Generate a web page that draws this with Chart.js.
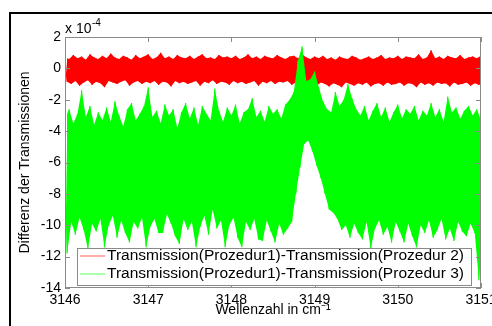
<!DOCTYPE html>
<html><head><meta charset="utf-8">
<script src="https://cdn.jsdelivr.net/npm/chart.js@4.4.1/dist/chart.umd.min.js"></script>
<style>
html,body{margin:0;padding:0;background:#fff;}
#wrap{position:relative;width:492px;height:326px;overflow:hidden;background:#fff;}
#frame{position:absolute;left:9px;top:12px;width:600px;height:400px;border-left:2px solid #000;border-top:2px solid #000;}
canvas{position:absolute;left:0;top:0;}
</style></head><body>
<div id="wrap"><div id="frame"></div><canvas id="c" width="492" height="326"></canvas></div>
<script>
// Wavenumber grid (cm^-1): samples every 0.05 from 3146 to 3151
const X_START = 3146, X_STEP = 0.05;
// All values in units of 1e-4
// Series 1: Transmission(Prozedur1)-Transmission(Prozedur 2)  (red) — upper / lower noise extremes
const redHigh = [0.7,0.6,0.85,0.65,0.75,0.55,0.9,0.7,0.6,0.8,
0.65,0.95,0.7,0.6,0.8,0.7,0.55,0.85,0.65,0.75,
0.9,0.6,0.7,1.0,0.65,0.75,0.6,0.85,0.7,0.65,
0.8,0.6,0.75,0.9,0.65,0.7,0.6,0.85,0.7,0.75,
0.65,0.8,0.6,0.7,0.9,0.65,0.75,0.6,0.8,0.7,
0.65,0.85,0.7,0.6,0.75,0.8,0.65,0.9,0.7,0.6,
0.75,0.65,0.8,0.6,0.7,0.55,0.75,0.65,0.6,0.8,
0.7,0.55,0.65,0.75,0.6,0.7,0.85,0.6,0.7,0.65,
0.8,0.6,0.75,0.7,0.65,0.9,0.6,0.7,1.15,0.65,
0.75,0.6,0.8,0.7,0.65,0.85,0.6,0.7,0.75,0.65,0.8];
const redLow = [-0.85,-1.0,-0.8,-1.1,-0.9,-0.75,-1.05,-0.85,-0.95,-1.2,
-0.8,-0.9,-1.0,-0.85,-0.75,-1.1,-0.9,-0.8,-1.0,-0.85,
-0.95,-0.8,-1.05,-0.85,-0.9,-1.15,-0.8,-0.95,-0.85,-1.0,
-0.9,-0.8,-1.1,-0.85,-0.95,-0.75,-1.0,-0.85,-0.9,-1.05,
-0.8,-0.95,-0.85,-1.0,-0.9,-0.8,-1.1,-0.85,-0.95,-0.8,
-1.0,-0.85,-0.9,-0.8,-1.05,-0.9,-0.85,-1.0,-0.8,-0.95,
-1.1,-0.9,-1.0,-1.15,-0.95,-1.05,-1.2,-0.9,-1.0,-1.1,
-0.95,-1.05,-0.9,-1.15,-1.0,-0.95,-1.1,-0.9,-1.05,-1.0,
-0.9,-1.1,-0.95,-1.0,-1.2,-0.9,-1.05,-0.95,-1.1,-0.9,
-1.0,-0.95,-1.15,-0.9,-1.05,-1.0,-0.9,-1.1,-0.95,-1.05,-0.9];
// Series 2: Transmission(Prozedur1)-Transmission(Prozedur 3)  (green)
const greenHigh = [-3.2,-2.6,-3.5,-2.9,-1.4,-3.1,-2.4,-3.6,-2.8,-3.3,
-2.5,-3.4,-2.1,-3.0,-3.7,-2.6,-2.2,-3.3,-2.9,-2.4,
-1.2,-3.1,-2.7,-3.5,-2.3,-3.0,-2.6,-3.8,-2.8,-2.2,
-3.2,-2.5,-3.6,-2.4,-2.9,-3.3,-1.3,-2.7,-3.4,-2.5,
-3.0,-2.3,-3.5,-2.8,-2.6,-1.9,-3.1,-2.7,-3.4,-2.4,
-2.9,-2.6,-3.2,-2.3,-2.0,-1.5,0.5,1.4,-0.8,-0.7,
-0.2,-1.2,-2.1,-2.6,-2.8,-1.5,-2.4,-2.0,-1.0,-1.9,
-2.6,-3.0,-2.4,-3.3,-2.7,-2.2,-3.1,-2.5,-3.4,-2.8,
-2.3,-3.2,-2.6,-2.9,-2.4,-3.3,-2.7,-3.0,-2.2,-3.1,
-2.6,-3.4,-1.8,-2.8,-2.5,-3.2,-2.7,-2.4,-3.0,-2.6,-3.3];
const greenLow = [-11.8,-9.8,-10.6,-9.5,-10.3,-11.5,-9.9,-10.4,-9.6,-11.4,
-10.0,-9.4,-10.8,-9.7,-10.5,-11.1,-9.8,-10.2,-9.5,-11.4,
-10.1,-9.6,-10.5,-10.5,-9.3,-9.9,-10.7,-11.2,-9.6,-10.3,
-9.8,-11.4,-10.1,-9.4,-10.6,-9.0,-10.2,-9.7,-11.4,-10.0,
-9.5,-10.8,-11.4,-9.8,-10.3,-9.6,-10.9,-11.0,-9.7,-10.4,
-11.1,-9.9,-10.6,-10.2,-9.8,-8.0,-6.3,-4.8,-4.6,-5.3,
-6.2,-7.0,-8.0,-9.0,-9.2,-9.6,-10.3,-10.0,-10.8,-9.9,
-10.5,-10.9,-9.8,-11.5,-10.2,-9.7,-10.6,-10.1,-11.1,-9.8,
-10.4,-11.1,-9.9,-10.7,-11.4,-10.0,-10.5,-9.7,-10.8,-10.3,
-9.6,-10.9,-10.2,-11.0,-9.8,-10.4,-10.7,-9.9,-10.5,-13.5,-10.2];
const seriesLabels = ['Transmission(Prozedur1)-Transmission(Prozedur 2)',
                      'Transmission(Prozedur1)-Transmission(Prozedur 3)'];
const xTicks = [3146,3147,3148,3149,3150,3151];
const yTicks = [2,0,-2,-4,-6,-8,-10,-12,-14];

function zigzag(highs, lows){
  const pts = [];
  for (let i = 0; i < highs.length; i++){
    const x = X_START + i*X_STEP;
    pts.push({x: x, y: highs[i]});
    pts.push({x: x + X_STEP/2, y: lows[i]});
  }
  return pts;
}
const envHigh = highs => highs.map((v, i) => ({x: X_START + i*X_STEP, y: v}));
const envLow = lows => lows.map((v, i) => ({x: X_START + i*X_STEP + X_STEP/2, y: v}));

const FONT = '"Liberation Sans", Arial, sans-serif';

const matlabPlugin = {
  id: 'matlabAxes',
  afterDatasetsDraw(chart){
    const {ctx, chartArea: a, scales: {x, y}} = chart;
    ctx.save();
    ctx.strokeStyle = '#8a8a8a'; ctx.lineWidth = 1;
    ctx.strokeRect(a.left + 0.5, a.top + 0.5, a.right - a.left - 1, a.bottom - a.top - 1);
    ctx.beginPath();
    xTicks.forEach(v => {
      const px = Math.round(x.getPixelForValue(v)) + 0.5;
      ctx.moveTo(px, a.top); ctx.lineTo(px, a.top + 5);
      ctx.moveTo(px, a.bottom); ctx.lineTo(px, a.bottom - 5);
    });
    yTicks.forEach(v => {
      const py = Math.round(y.getPixelForValue(v)) + 0.5;
      ctx.moveTo(a.left, py); ctx.lineTo(a.left + 5, py);
      ctx.moveTo(a.right, py); ctx.lineTo(a.right - 5, py);
    });
    ctx.stroke();
    // exponent label
    ctx.fillStyle = '#000';
    ctx.textBaseline = 'alphabetic';
    ctx.font = '14px ' + FONT;
    ctx.fillText('x 10', a.left, a.top - 4);
    const w = ctx.measureText('x 10').width;
    ctx.font = '10px ' + FONT;
    ctx.fillText('-4', a.left + w + 0.5, a.top - 11);
    // legend
    const lx = a.left + 12, ly = a.bottom - 40, lw = 394, lh = 37;
    ctx.fillStyle = '#fff';
    ctx.fillRect(lx, ly, lw, lh);
    ctx.strokeStyle = '#8a8a8a';
    ctx.strokeRect(lx + 0.5, ly + 0.5, lw, lh);
    const colors = ['#ff9090', '#90ff90'];
    const rows = [ly + 8, ly + 26];
    ctx.font = '14px ' + FONT;
    ctx.textBaseline = 'middle';
    seriesLabels.forEach((t, i) => {
      ctx.strokeStyle = colors[i]; ctx.lineWidth = 1.5;
      ctx.beginPath(); ctx.moveTo(lx + 3, rows[i]); ctx.lineTo(lx + 28, rows[i]); ctx.stroke();
      const tw = ctx.measureText(t).width;
      const sx = 357 / tw;
      ctx.save();
      ctx.translate(lx + 30, rows[i]);
      ctx.scale(sx, 1);
      ctx.fillStyle = '#000';
      ctx.fillText(t, 0, 0);
      ctx.restore();
    });
    ctx.restore();
  }
};

const base = { pointRadius: 0, tension: 0 };
new Chart(document.getElementById('c'), {
  type: 'line',
  data: {
    datasets: [
      // green trace (on top)
      Object.assign({ label: seriesLabels[1], data: zigzag(greenHigh, greenLow), borderColor: '#00ff00',
        borderWidth: 1.2, order: 1, fill: false }, base),
      Object.assign({ label: 'g-hi', data: envHigh(greenHigh), borderWidth: 0, borderColor: 'rgba(0,0,0,0)',
        backgroundColor: '#00ff00', fill: '+1', order: 2 }, base),
      Object.assign({ label: 'g-lo', data: envLow(greenLow), borderWidth: 0, borderColor: 'rgba(0,0,0,0)',
        fill: false, order: 3 }, base),
      // red trace
      Object.assign({ label: seriesLabels[0], data: zigzag(redHigh, redLow), borderColor: '#ff0000',
        borderWidth: 1.2, order: 4, fill: false }, base),
      Object.assign({ label: 'r-hi', data: envHigh(redHigh), borderWidth: 0, borderColor: 'rgba(0,0,0,0)',
        backgroundColor: '#ff0000', fill: '+1', order: 5 }, base),
      Object.assign({ label: 'r-lo', data: envLow(redLow), borderWidth: 0, borderColor: 'rgba(0,0,0,0)',
        fill: false, order: 6 }, base)
    ]
  },
  options: {
    responsive: false,
    animation: false,
    events: [],
    layout: { padding: { left: 0, right: 11, top: 37, bottom: 0 } },
    plugins: { legend: { display: false }, tooltip: { enabled: false },
               filler: { propagate: false } },
    scales: {
      x: {
        type: 'linear', min: 3146, max: 3151,
        afterBuildTicks: s => { s.ticks = xTicks.map(v => ({value: v})); },
        afterFit: s => { s.height = 38; s.paddingLeft = 0; s.paddingRight = 0; },
        grid: { display: false, drawTicks: false },
        border: { display: false },
        ticks: { padding: 4, color: '#000', font: { family: FONT, size: 14 }, maxRotation: 0, autoSkip: false,
                 callback: v => String(v) },
        title: { display: true, text: 'Wellenzahl in cm\u207B\u00B9', color: '#000',
                 font: { family: FONT, size: 14 }, padding: { top: 0, bottom: 7.6 } }
      },
      y: {
        type: 'linear', min: -14, max: 2,
        afterBuildTicks: s => { s.ticks = yTicks.map(v => ({value: v})); },
        afterFit: s => { s.width = 65; },
        grid: { display: false, drawTicks: false },
        border: { display: false },
        ticks: { padding: 4, color: '#000', font: { family: FONT, size: 14 }, autoSkip: false,
                 callback: v => String(v) },
        title: { display: true, text: 'Differenz der Transmissionen', color: '#000',
                 font: { family: FONT, size: 14 }, padding: { top: 16.6, bottom: 0 } }
      }
    }
  },
  plugins: [matlabPlugin]
});
</script>
</body></html>
